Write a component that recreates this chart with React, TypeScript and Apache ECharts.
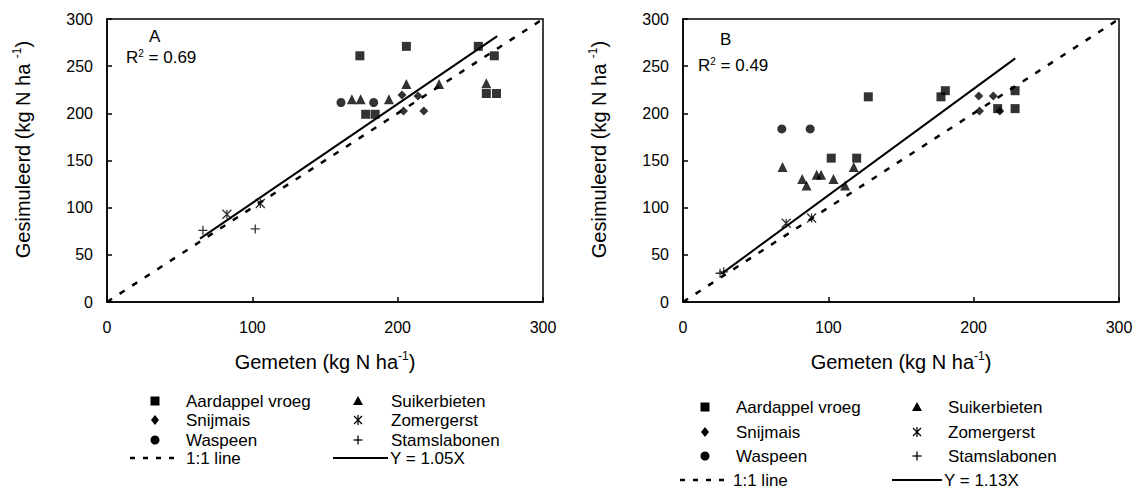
import React, { useEffect, useRef } from "react";
import * as echarts from "echarts";

const FONT = '"Liberation Sans Narrow", "Liberation Sans", Arial, sans-serif';

// Panel A data [gemeten, gesimuleerd]
const aardappelA = [[174, 261], [206, 271], [255.5, 271], [266.5, 261], [261, 221], [268, 221], [178, 199], [184.5, 199]];
const suikerA = [[168.5, 215], [174.5, 215], [194, 215], [206, 231], [228.5, 231], [261, 232]];
const snijmaisA = [[203, 219.5], [214, 218.5], [204, 202.5], [218, 202.5]];
const waspeenA = [[161, 211.5], [183.5, 211.5]];
const zomerA = [[82.5, 93], [105.5, 104.5]];
const stamA = [[66, 76], [102, 77.5]];
const slopeA = 1.05;
const fitRangeA = [64, 268.5];

// Panel B data
const aardappelB = [[127.5, 217.5], [177.5, 217.5], [180.5, 224], [228.5, 224], [228.5, 205], [216.5, 205], [102, 152.5], [119.5, 152.5]];
const suikerB = [[68.5, 143], [82, 130.5], [85, 123.5], [92, 135], [95, 135], [103.5, 130.5], [111.5, 123.5], [117.5, 143]];
const snijmaisB = [[203.5, 218.5], [213.5, 218.5], [204, 202.5], [218, 202.5]];
const waspeenB = [[68, 183.5], [87.5, 183.5]];
const zomerB = [[71, 83.5], [88.5, 89]];
const stamB = [[25.5, 30.5], [28, 32]];
const slopeB = 1.13;
const fitRangeB = [26.4, 228.6];

const axisMin = 0;
const axisMax = 300;
const xInterval = 100;
const yInterval = 50;

const STAR = "path://M0,0L10,10M10,0L0,10M5,0L5,10";
const PLUS = "path://M5,0L5,10M0,5L10,5";

const nameRich = {
  n: { fontSize: 20, fontFamily: FONT, color: "#000", lineHeight: 24 },
  sup: { fontSize: 12, fontFamily: FONT, color: "#000", verticalAlign: "top", lineHeight: 14 },
};

function axes(gi: number) {
  const x = {
    gridIndex: gi, type: "value", min: axisMin, max: axisMax, interval: xInterval,
    axisLine: { show: true, onZero: false, lineStyle: { color: "#000", width: 1.5 } },
    axisTick: { show: true, inside: true, length: 5, lineStyle: { color: "#000", width: 1.5 } },
    axisLabel: { color: "#000", fontSize: 16, margin: 17, fontFamily: FONT },
    splitLine: { show: false },
    name: "{n|Gemeten (kg N ha}{sup|-1}{n|)}",
    nameLocation: "middle", nameGap: 48,
    nameTextStyle: { color: "#000", fontFamily: FONT, rich: nameRich },
  };
  const y = {
    gridIndex: gi, type: "value", min: axisMin, max: axisMax, interval: yInterval,
    axisLine: { show: true, onZero: false, lineStyle: { color: "#000", width: 1.5 } },
    axisTick: { show: true, inside: true, length: 5, lineStyle: { color: "#000", width: 1.5 } },
    axisLabel: { color: "#000", fontSize: 16, margin: 14, fontFamily: FONT },
    splitLine: { show: false },
    name: "{n|Gesimuleerd (kg N ha }{sup|-1}{n|)}",
    nameLocation: "middle", nameGap: 72,
    nameTextStyle: { color: "#000", fontFamily: FONT, padding: [0, 0, 0, 22], rich: nameRich },
  };
  return { x, y };
}

function scatter(gi: number, name: string, data: number[][], symbol: string, size: number, stroke = false) {
  return {
    type: "scatter", name, xAxisIndex: gi, yAxisIndex: gi, data, symbol, symbolSize: size,
    itemStyle: stroke ? { color: "transparent", borderColor: "#000", borderWidth: 1.3 } : { color: "#000" },
    z: 3,
  };
}

function lines(gi: number, slope: number, range: number[]) {
  return [
    {
      type: "line", xAxisIndex: gi, yAxisIndex: gi, data: [[axisMin, axisMin], [axisMax, axisMax]],
      symbol: "none", lineStyle: { color: "#000", width: 2.5, type: [6, 9] }, z: 2,
    },
    {
      type: "line", xAxisIndex: gi, yAxisIndex: gi, data: range.map((v) => [v, slope * v]),
      symbol: "none", lineStyle: { color: "#000", width: 2 }, z: 2,
    },
  ];
}

function marker(kind: string, cx: number, cy: number): any {
  const fill = { fill: "#000" };
  switch (kind) {
    case "square": return { type: "rect", shape: { x: cx - 4.5, y: cy - 4.5, width: 9, height: 9 }, style: fill };
    case "diamond": return { type: "polygon", shape: { points: [[cx, cy - 5], [cx + 4, cy], [cx, cy + 5], [cx - 4, cy]] }, style: fill };
    case "circle": return { type: "circle", shape: { cx, cy, r: 4.5 }, style: fill };
    case "triangle": return { type: "polygon", shape: { points: [[cx, cy - 5], [cx + 5, cy + 4], [cx - 5, cy + 4]] }, style: fill };
    case "star": return { type: "group", children: [
      { type: "line", shape: { x1: cx - 4, y1: cy - 4, x2: cx + 4, y2: cy + 4 }, style: { stroke: "#000", lineWidth: 1.3 } },
      { type: "line", shape: { x1: cx + 4, y1: cy - 4, x2: cx - 4, y2: cy + 4 }, style: { stroke: "#000", lineWidth: 1.3 } },
      { type: "line", shape: { x1: cx, y1: cy - 5, x2: cx, y2: cy + 5 }, style: { stroke: "#000", lineWidth: 1.3 } },
    ] };
    default: return { type: "group", children: [
      { type: "line", shape: { x1: cx - 4.5, y1: cy, x2: cx + 4.5, y2: cy }, style: { stroke: "#000", lineWidth: 1.3 } },
      { type: "line", shape: { x1: cx, y1: cy - 4.5, x2: cx, y2: cy + 4.5 }, style: { stroke: "#000", lineWidth: 1.3 } },
    ] };
  }
}

function txt(text: string, x: number, y: number, size = 17, rich?: any): any {
  return { type: "text", x, y, style: { text, fill: "#000", fontSize: size, fontFamily: FONT, verticalAlign: "middle", textVerticalAlign: "middle", rich } };
}

function legend(L: any, fitLabel: string) {
  const els: any[] = [];
  const c1 = [["square", "Aardappel vroeg"], ["diamond", "Snijmais"], ["circle", "Waspeen"]];
  const c2 = [["triangle", "Suikerbieten"], ["star", "Zomergerst"], ["plus", "Stamslabonen"]];
  c1.forEach((it, i) => { els.push(marker(it[0], L.m1, L.rows[i])); els.push(txt(it[1], L.t1, L.rows[i])); });
  c2.forEach((it, i) => { els.push(marker(it[0], L.m2, L.rows[i])); els.push(txt(it[1], L.t2, L.rows[i])); });
  const ly = L.rows[3];
  els.push({ type: "line", shape: { x1: L.d1, y1: ly, x2: L.d2, y2: ly }, style: { stroke: "#000", lineWidth: 2.5, lineDash: [5, 8] } });
  els.push(txt("1:1 line", L.d2 + 6, ly));
  els.push({ type: "line", shape: { x1: L.s1, y1: ly, x2: L.s2, y2: ly }, style: { stroke: "#000", lineWidth: 2 } });
  els.push(txt(fitLabel, L.s2 + 2, ly));
  return els;
}

export default function App() {
  const ref = useRef<HTMLDivElement>(null);
  useEffect(() => {
    if (!ref.current) return;
    const chart = echarts.init(ref.current, null, { renderer: "svg" });
    const a = axes(0);
    const b = axes(1);
    const supRich = { sup: { fontSize: 10, verticalAlign: "top", lineHeight: 10, fontFamily: FONT, fill: "#000" } };
    chart.setOption({
      animation: false,
      backgroundColor: "#fff",
      grid: [
        { left: 107, top: 19, width: 436, height: 283, show: true, borderColor: "#000", borderWidth: 1.5 },
        { left: 683, top: 19, width: 436, height: 283, show: true, borderColor: "#000", borderWidth: 1.5 },
      ],
      xAxis: [a.x, b.x],
      yAxis: [a.y, b.y],
      series: [
        ...lines(0, slopeA, fitRangeA),
        scatter(0, "Aardappel vroeg", aardappelA, "rect", 9),
        scatter(0, "Suikerbieten", suikerA, "triangle", 10),
        scatter(0, "Snijmais", snijmaisA, "diamond", 9),
        scatter(0, "Waspeen", waspeenA, "circle", 9),
        scatter(0, "Zomergerst", zomerA, STAR, 9, true),
        scatter(0, "Stamslabonen", stamA, PLUS, 9, true),
        ...lines(1, slopeB, fitRangeB),
        scatter(1, "Aardappel vroeg", aardappelB, "rect", 9),
        scatter(1, "Suikerbieten", suikerB, "triangle", 10),
        scatter(1, "Snijmais", snijmaisB, "diamond", 9),
        scatter(1, "Waspeen", waspeenB, "circle", 9),
        scatter(1, "Zomergerst", zomerB, STAR, 9, true),
        scatter(1, "Stamslabonen", stamB, PLUS, 9, true),
      ],
      graphic: [
        txt("A", 149, 36),
        txt("R{sup|2} = 0.69", 126, 57, 17, supRich),
        txt("B", 720, 39),
        txt("R{sup|2} = 0.49", 698, 65, 17, supRich),
        ...legend({ m1: 155, t1: 186, m2: 358, t2: 391, rows: [401, 420, 440, 458], d1: 130, d2: 180, s1: 333, s2: 388 }, "Y = 1.05X"),
        ...legend({ m1: 705, t1: 736, m2: 917, t2: 948, rows: [407, 432, 456, 480], d1: 680, d2: 727, s1: 892, s2: 942 }, "Y = 1.13X"),
      ],
    });
    return () => chart.dispose();
  }, []);
  return <div ref={ref} style={{ position: "fixed", left: 0, top: 0, width: 1141, height: 491 }} />;
}
